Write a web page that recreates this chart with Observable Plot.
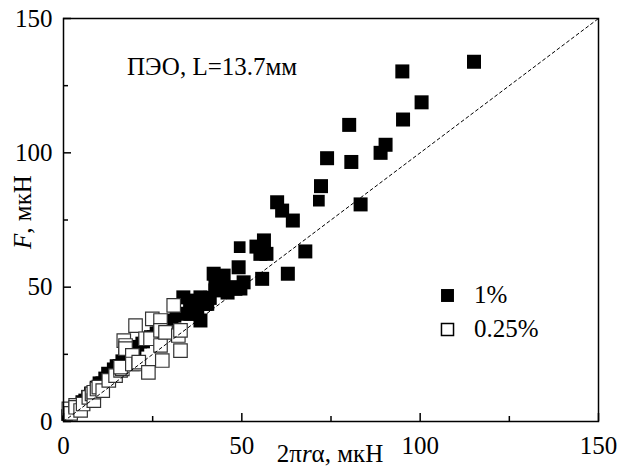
<!DOCTYPE html>
<html><head><meta charset="utf-8">
<script src="https://cdn.jsdelivr.net/npm/d3@7"></script>
<script src="https://cdn.jsdelivr.net/npm/@observablehq/plot@0.6"></script>
<style>
body{margin:0;background:#fff}
svg{display:block}
svg text, svg tspan{font-family:"Liberation Serif","Times New Roman",serif !important;}
</style>
</head><body><div id="chart"></div>
<script>
// ---- data ----
const xTicks = [0, 50, 100, 150];
const yTicks = [0, 50, 100, 150];
const minorTicks = [25, 75, 125];
const legendLabels = ["1%", "0.25%"];
const annotation = "ПЭО, L=13.7мм";
const xLabelParts = ["2π", "r", "α, мкН"];
const yLabelParts = ["F", ", мкН"];

// 1% series, large markers [x, y]
const onePctLarge = [
  [33.6,46.2],[35.5,44.0],[36.1,45.0],[38.4,46.2],[39.8,43.8],[34.7,40.1],[37.5,41.3],
  [40.3,43.8],[35.6,40.1],[38.4,37.6],[36.0,42.0],[41.0,46.0],[42.1,55.0],[44.9,54.3],
  [42.6,50.6],[42.6,48.8],[44.5,52.5],[46.0,48.0],[47.7,50.0],[49.6,49.5],[48.2,49.4],
  [50.5,51.8],[49.1,57.4],[55.7,53.1],[62.9,55.0],[54.1,65.1],[56.2,67.4],[55.2,62.4],
  [56.9,62.4],[67.8,63.3],[59.9,81.6],[61.3,78.5],[64.3,74.8],[72.2,87.6],[73.9,98.0],
  [80.7,96.6],[83.3,80.8],[88.9,100.0],[90.3,103.0],[80.1,110.4],[95.2,112.4],
  [100.4,118.8],[95.0,130.3],[115.1,133.9]
];
// 1% series, small markers
const onePctSmall = [
  [1.0,2.4],[1.8,3.6],[2.6,3.6],[3.4,5.2],[4.2,6.2],[5.0,7.6],[5.8,8.2],[6.6,9.6],
  [7.4,10.8],[8.2,11.4],[9.0,13.0],[9.8,14.6],[10.6,14.6],[11.4,16.4],[12.2,18.2],
  [13.0,17.8],[13.8,19.8],[14.6,21.0],[15.4,21.0],[16.2,22.8],[17.0,24.2],[17.8,24.0],
  [18.6,25.8],[19.4,26.8],[20.2,26.8],[21.0,28.2],[21.8,29.4],[22.6,29.4],[23.4,30.8],
  [24.2,31.8],[25.0,31.8],[25.8,33.2],[26.6,34.2],[27.4,34.0],[28.2,35.6],[29.0,36.6],
  [29.8,36.6],[30.6,38.0],[31.4,39.0],[32.2,40.0],[49.4,64.9],[71.6,82.2]
];
// 0.25% series (open squares)
const quarterPct = [
  [1.5,4.7],[2.0,3.0],[3.4,6.0],[3.4,5.3],[4.8,4.1],[5.5,6.5],[7.1,9.0],[8.0,10.3],
  [8.5,7.8],[8.5,10.9],[9.4,12.1],[9.9,12.8],[11.0,11.5],[12.7,15.3],[14.6,17.1],
  [16.0,19.0],[16.5,19.6],[16.0,20.2],[16.9,30.1],[17.4,28.3],[17.4,27.1],[19.3,24.6],
  [19.3,21.4],[21.1,21.4],[21.1,22.1],[20.2,35.7],[23.0,30.8],[23.8,18.3],[24.4,30.8],
  [24.9,38.2],[27.2,37.6],[27.2,33.9],[27.2,28.3],[27.7,22.7],[28.6,33.2],[30.9,43.2],
  [32.2,32.0],[32.8,26.4],[32.8,33.9]
];

const font = "Liberation Serif, Times New Roman, serif";
const fs = 25;

const chart = Plot.plot({
  width: 624, height: 468,
  marginLeft: 63, marginRight: 26, marginTop: 18, marginBottom: 47,
  x: {domain: [0, 150]},
  y: {domain: [0, 150]},
  style: {fontFamily: font, fontSize: fs + "px"},
  marks: [
    Plot.dot(onePctSmall, {x: d => d[0], y: d => d[1], symbol: "square", r: 6.6, fill: "black"}),
    Plot.dot(onePctLarge, {x: d => d[0], y: d => d[1], symbol: "square", r: 7.9, fill: "black"}),
    Plot.dot(quarterPct, {x: d => d[0], y: d => d[1], symbol: "square", r: 7.6, fill: "white", stroke: "#333", strokeWidth: 1.2}),
    Plot.line([0, 150], {x: d => d, y: d => d, stroke: "black", strokeWidth: 1, strokeDasharray: "3,3"}),
    Plot.frame({stroke: "black", strokeWidth: 1.5}),
    Plot.axisX({ticks: xTicks, tickSize: -8, tickPadding: 23, label: null, fontSize: fs, fontFamily: font, strokeWidth: 1.5}),
    Plot.axisX({ticks: minorTicks, tickSize: -5, tickFormat: () => "", label: null, strokeWidth: 1.5}),
    Plot.axisY({ticks: yTicks, tickSize: -8, tickPadding: 19, label: null, fontSize: fs, fontFamily: font, strokeWidth: 1.5}),
    Plot.axisY({ticks: minorTicks, tickSize: -5, tickFormat: () => "", label: null, strokeWidth: 1.5}),
    // legend
    Plot.dot(legendLabels.slice(0, 1), {frameAnchor: "top-left", dx: 384, dy: 277, symbol: "square", r: 7.3, fill: "black"}),
    Plot.dot(legendLabels.slice(1, 2), {frameAnchor: "top-left", dx: 384, dy: 311, symbol: "square", r: 6.8, fill: "white", stroke: "black", strokeWidth: 1.5})
  ]
});
document.getElementById("chart").appendChild(chart);

const svg = d3.select(chart);
const addText = (x, y, parts, italicIdx, anchor, transform) => {
  const t = svg.append("text")
    .attr("font-family", font).attr("font-size", fs)
    .attr("text-anchor", anchor);
  if (transform) t.attr("transform", transform); else t.attr("x", x).attr("y", y);
  parts.forEach((p, i) => {
    const s = t.append("tspan").text(p);
    if (italicIdx.includes(i)) s.attr("font-style", "italic");
  });
  return t;
};
addText(330, 462, xLabelParts, [1], "middle");
addText(0, 0, yLabelParts, [0], "middle", "translate(31,212) rotate(-90)");
addText(127, 75, [annotation], [], "start");
addText(474, 303, [legendLabels[0]], [], "start");
addText(474, 337, [legendLabels[1]], [], "start");
svg.selectAll("text, tspan").attr("font-family", font);
</script></body></html>
